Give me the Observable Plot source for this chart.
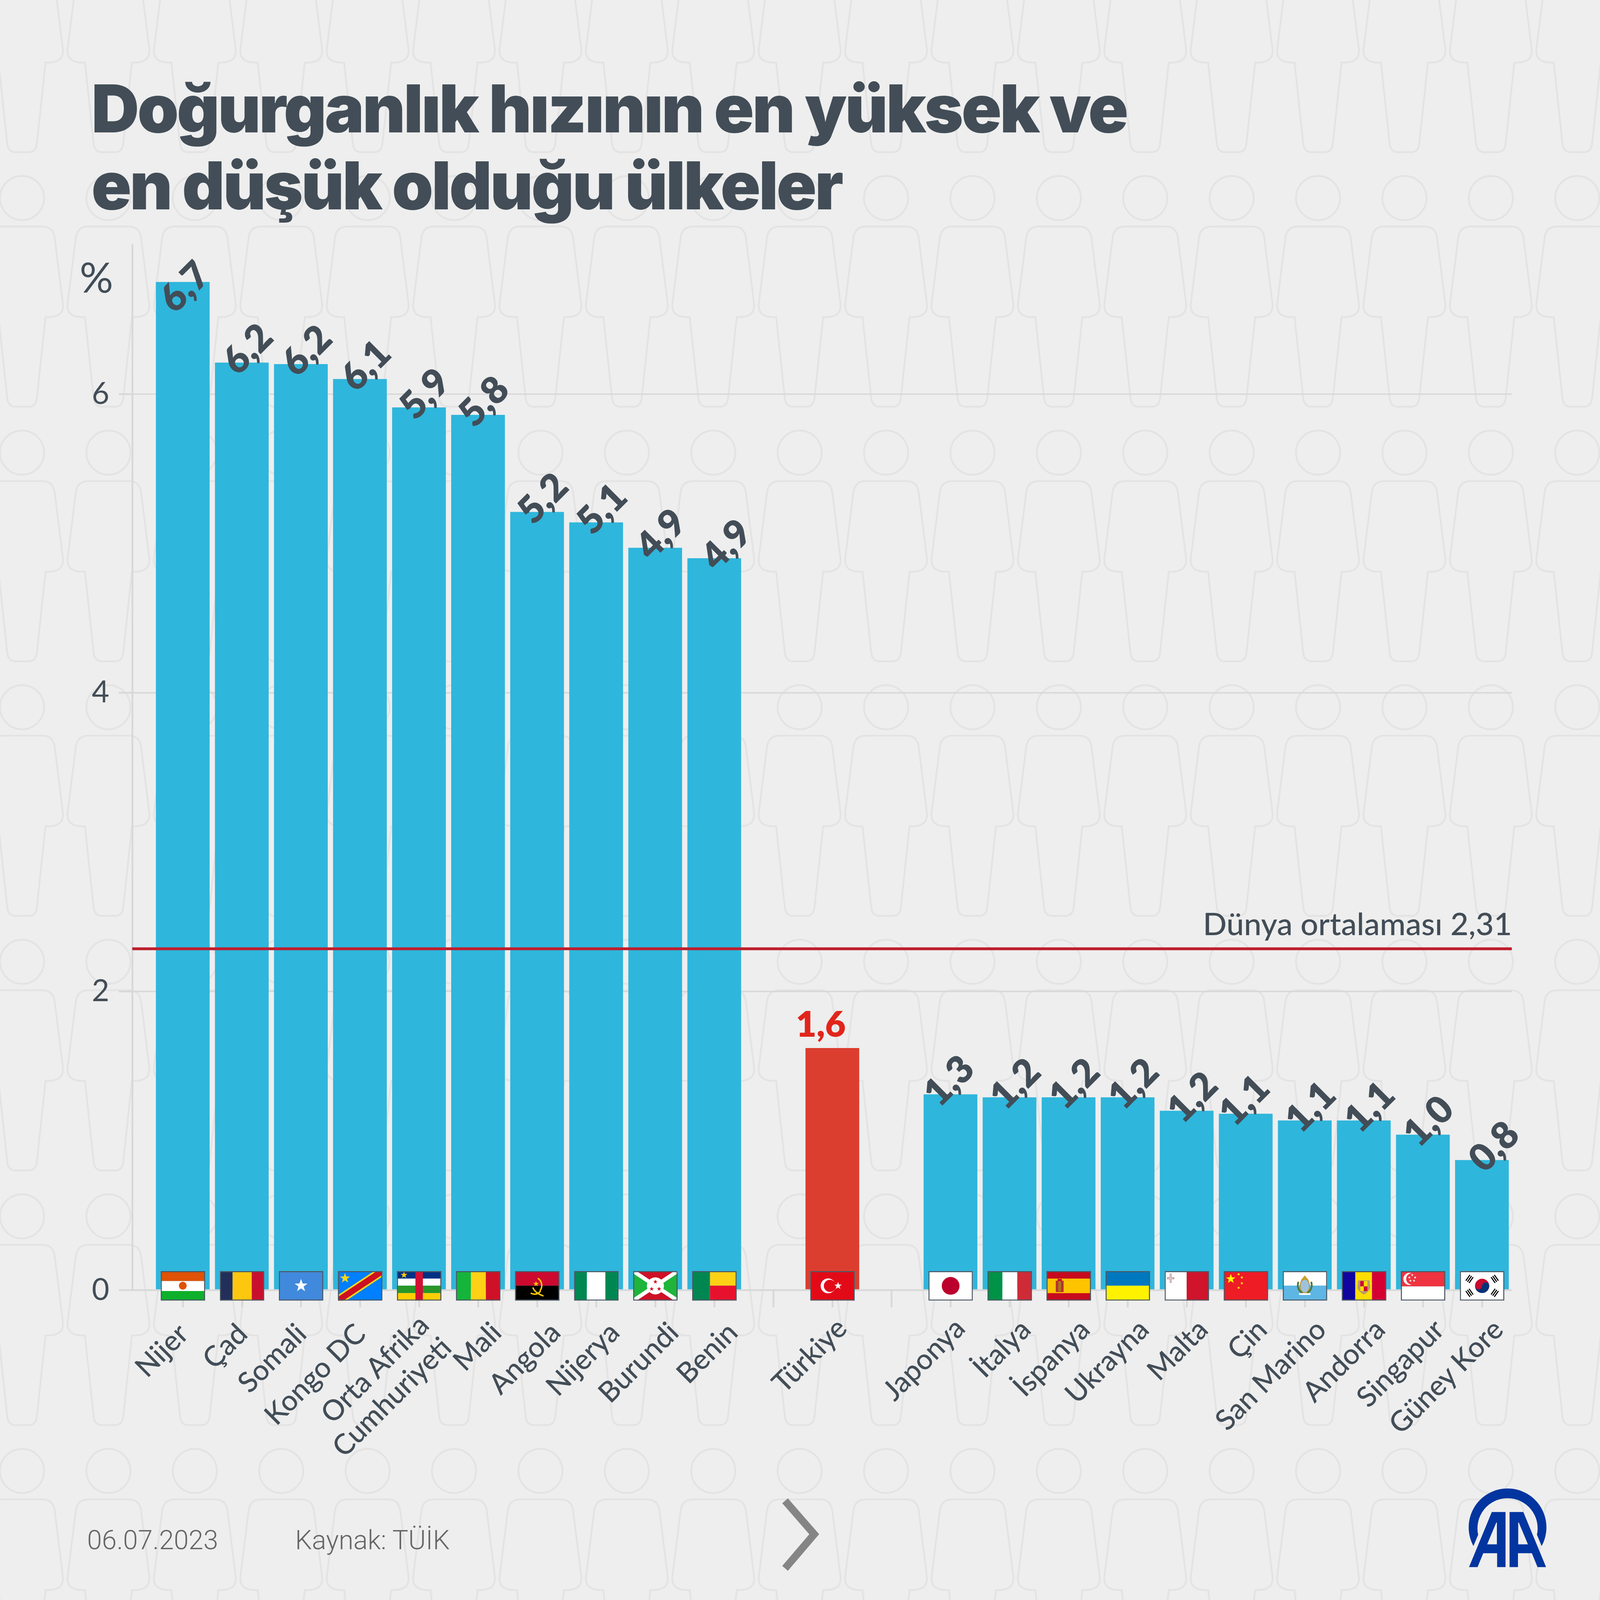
<!DOCTYPE html>
<html lang="tr">
<head>
<meta charset="utf-8">
<script src="https://cdn.jsdelivr.net/npm/d3@7"></script>
<script src="https://cdn.jsdelivr.net/npm/@observablehq/plot@0.6"></script>
<style>
  html,body{margin:0;padding:0;width:100%;height:100%;overflow:hidden;background:#eeeeee}
  #page{position:absolute;left:0;top:0;width:4500px;height:4500px;background-color:#eeeeee;transform-origin:0 0}
  #bg,#deco{position:absolute;left:0;top:0}
  #chart{position:absolute;left:0;top:0}
  #title{position:absolute;left:257px;top:196px;margin:0;font:900 186px/217px Inter,sans-serif;color:#424d57;white-space:nowrap;letter-spacing:-5.1px}
  .foot{position:absolute;top:4286px;font:300 75px/90px Roboto,sans-serif;color:#666}
</style>
</head>
<body>
<div id="page">
  <svg id="bg" width="4500" height="4500"></svg>
  <div id="chart"></div>
  <h1 id="title">Doğurganlık hızının en yüksek ve<br>en düşük olduğu ülkeler</h1>
  <div class="foot" style="left:245px">06.07.2023</div>
  <div class="foot" style="left:830px">Kaynak: TÜİK</div>
  <svg id="deco" width="4500" height="4500" style="pointer-events:none">
    <polyline points="2208,4221 2290,4315 2208,4411" fill="none" stroke="#858585" stroke-width="21"/>
    <g transform="translate(4050,4150) scale(0.3333)" fill="#0335a0">
      <path d="M282 594 A328 328 0 1 1 858 594 L818 500 A254 254 0 1 0 322 500 Z"/>
      <path fill-rule="evenodd" d="M437 308H553V772H482V655H365L317 772H245ZM475 397 398 580H480V397Z"/>
      <path fill-rule="evenodd" d="M703 308H587V772H658V655H775L823 772H895ZM665 397 742 580H660V397Z"/>
    </g>
  </svg>
</div>
<script>
// the window may be smaller than the 4500-unit design: fit the whole page into it
document.getElementById("page").style.transform=`scale(${Math.min(1,Math.min(innerWidth,innerHeight)/4500)})`;

// ---- chart data ----
const countries = ["Nijer","Çad","Somali","Kongo DC","Orta Afrika\nCumhuriyeti","Mali","Angola","Nijerya","Burundi","Benin","Türkiye","Japonya","İtalya","İspanya","Ukrayna","Malta","Çin","San Marino","Andorra","Singapur","Güney Kore"];
const barValues = [6.75,6.21,6.2,6.1,5.91,5.86,5.21,5.14,4.97,4.9,1.62,1.31,1.29,1.29,1.29,1.2,1.18,1.135,1.135,1.04,0.87];
const valueLabels = ["6,7","6,2","6,2","6,1","5,9","5,8","5,2","5,1","4,9","4,9","1,6","1,3","1,2","1,2","1,2","1,2","1,1","1,1","1,1","1,0","0,8"];
const slots = ["Nijer","Çad","Somali","Kongo DC","Orta Afrika\nCumhuriyeti","Mali","Angola","Nijerya","Burundi","Benin"," ","Türkiye","  ","Japonya","İtalya","İspanya","Ukrayna","Malta","Çin","San Marino","Andorra","Singapur","Güney Kore"];
const yTicks = [0,2,4,6];
const worldLine = 2.286;
const worldLabel = "Dünya ortalaması 2,31";
const INK = "#424d57", BLUE = "#2bb5db", RED = "#da3a2b";

// ---- flags ----
function star(cx,cy,r,fill){let p=[];for(let i=0;i<10;i++){const a=-Math.PI/2+i*Math.PI/5,q=i%2?r*0.4:r;p.push((cx+q*Math.cos(a)).toFixed(1)+","+(cy+q*Math.sin(a)).toFixed(1));}return `<polygon points="${p.join(" ")}" fill="${fill}"/>`;}
function r(x,y,w,h,f){return `<rect x="${x}" y="${y}" width="${w}" height="${h}" fill="${f}"/>`;}
function flag(inner){
  const s=`<svg xmlns="http://www.w3.org/2000/svg" width="125" height="83" viewBox="0 0 125 83">${inner}<rect x="1.5" y="1.5" width="122" height="80" fill="none" stroke="#4c5966" stroke-width="3"/></svg>`;
  return "data:image/svg+xml;charset=utf-8,"+encodeURIComponent(s);
}
const h3=(a,b,c)=>r(0,0,125,28,a)+r(0,28,125,28,b)+r(0,56,125,27,c);
const v3=(a,b,c,x1=42,x2=84)=>r(0,0,x1,83,a)+r(x1,0,x2-x1,83,b)+r(x2,0,125-x2,83,c);
const trig=(x,y,a)=>`<g transform="translate(${x},${y}) rotate(${a})" fill="#000"><rect x="-10" y="-7" width="20" height="3"/><rect x="-10" y="-1.5" width="20" height="3"/><rect x="-10" y="4" width="20" height="3"/></g>`;
const flags = [
  h3("#e05206","#fff","#0db02b")+'<ellipse cx="62" cy="41" rx="11" ry="11" fill="#e05206"/>',
  v3("#222f5b","#fec70f","#c8102e",36,90),
  r(0,0,125,83,"#4189dd")+star(62.5,41,19,"#fff"),
  r(0,0,125,83,"#007fff")+'<path d="M0 83 125 0" stroke="#f7d618" stroke-width="26"/><path d="M0 83 125 0" stroke="#ce1021" stroke-width="17"/>'+star(20,20,15,"#f7d618"),
  r(0,0,125,21,"#003082")+r(0,21,125,20,"#fff")+r(0,41,125,21,"#289728")+r(0,62,125,21,"#ffce00")+r(52,0,21,83,"#d21034")+star(20,11,10,"#ffce00"),
  v3("#14b53a","#fcd116","#ce1126"),
  r(0,0,125,41,"#cc092f")+r(0,41,125,42,"#000")+star(59,36,8,"#ffcb00")+'<path d="M64 20 A24 24 0 0 1 70 55 M50 46 Q56 62 80 70 M44 62 Q60 70 72 56" fill="none" stroke="#ffcb00" stroke-width="4"/>',
  v3("#008751","#fff","#008751",36,88),
  r(0,0,125,83,"#ce1126")+'<path d="M0 0 62.5 41.5 0 83ZM125 0 62.5 41.5 125 83Z" fill="#1eb53a"/><path d="M0 0 125 83M125 0 0 83" stroke="#fff" stroke-width="11"/><circle cx="62.5" cy="41.5" r="24" fill="#fff"/>'+star(62.5,30,6.5,"#ce1126")+star(52,50,6.5,"#ce1126")+star(73,50,6.5,"#ce1126"),
  r(0,0,50,83,"#008751")+r(50,0,75,41,"#fcd116")+r(50,41,75,42,"#e8112d"),
  r(0,0,125,83,"#e30a17")+'<circle cx="50" cy="41.5" r="21" fill="#fff"/><circle cx="55" cy="41.5" r="17" fill="#e30a17"/>'+star(78,41.5,11,"#fff"),
  r(0,0,125,83,"#fff")+'<circle cx="62.5" cy="41.5" r="25" fill="#bc002d"/>',
  v3("#009246","#fff","#ce2b37"),
  r(0,0,125,83,"#c60b1e")+r(0,21,125,41,"#ffc400")+r(26,27,22,32,"#b7312c")+r(33,27,8,30,"#a5791b")+r(31,22,12,6,"#c8102e"),
  r(0,0,125,41,"#0078bf")+r(0,41,125,42,"#fff200"),
  r(0,0,62,83,"#fff")+r(62,0,63,83,"#cf142b")+'<path d="M17 7V33M7 20H27" stroke="#c05060" stroke-width="5" fill="none"/><path d="M17 8V32M8 20H26" stroke="#ddd" stroke-width="3" fill="none"/>',
  r(0,0,125,83,"#ee1c25")+star(20,22,14,"#ff0")+star(42,9,4.5,"#ff0")+star(51,18,4.5,"#ff0")+star(51,34,4.5,"#ff0")+star(42,47,4.5,"#ff0"),
  r(0,0,125,41,"#fff")+r(0,41,125,42,"#5eb6e4")+'<path d="M62 12 72 24 77 40 72 62H52L47 40 52 24Z" fill="#c9a227"/><ellipse cx="62" cy="42" rx="13" ry="19" fill="#9cc3dd" stroke="#c9912a" stroke-width="2"/><path d="M44 30Q38 50 55 62M80 30Q86 50 69 62" fill="none" stroke="#4f7a3a" stroke-width="5"/>'+r(46,62,32,5,"#fff"),
  v3("#10069f","#fedd00","#d50032",38,85)+'<path d="M46 26H78L80 48Q74 60 62 66 50 60 44 48Z" fill="#b79c6e"/>'+r(52,28,10,15,"#d50032")+r(62,28,10,15,"#fedd00")+r(52,43,10,13,"#fedd00")+r(62,43,10,13,"#d50032"),
  r(0,0,125,43,"#ef3340")+r(0,43,125,40,"#fff")+'<circle cx="24" cy="22" r="17" fill="#fff"/><circle cx="31" cy="22" r="16" fill="#ef3340"/>'+star(32,11,4,"#fff")+star(24,18,4,"#fff")+star(40,18,4,"#fff")+star(27,27,4,"#fff")+star(37,27,4,"#fff"),
  r(0,0,125,83,"#fff")+'<circle cx="62.5" cy="41.5" r="20" fill="#c60c30"/><path d="M42.5 41.5A20 20 0 0 0 82.5 41.5 10 10 0 0 0 62.5 41.5 10 10 0 0 1 42.5 41.5Z" fill="#003478"/>'+trig(27,22,-55)+trig(98,22,55)+trig(27,61,55)+trig(98,61,-55)
].map(flag);

const rows = countries.map((country,i)=>({country,value:barValues[i],label:valueLabels[i],flag:flags[i],color:country==="Türkiye"?RED:BLUE,i}));

// ---- background tile (decor) ----
const bg=d3.select("#bg");
const defs=bg.append("defs").append("pattern").attr("id","ppl").attr("patternUnits","userSpaceOnUse").attr("width",243).attr("height",716).attr("x",-59.5).attr("y",477);
const g=defs.append("g").attr("transform","translate(121.5,80)").attr("fill","none").attr("stroke","#e3e3e3").attr("stroke-width",5);
g.append("circle").attr("r",62);
g.append("path").attr("d","M-57 80H57Q88 80 92 113L115 298Q118 335 73 335H66L42 560Q40 587 18 587H-18Q-40 587 -42 560L-66 335H-73Q-118 335 -115 298L-92 113Q-88 80 -57 80Z");
bg.append("rect").attr("width",4500).attr("height",4500).attr("fill","url(#ppl)");

// ---- label placement groups (row ranges, offsets) ----
const nameGroups=[[0,3,0,108],[4,4,44,115],[5,9,50,104],[10,11,25,92],[12,20,44,96]];
const valueGroups=[
  {test:d=>d.i===0,dx:6,dy:15},
  {test:d=>[11,16].includes(d.i),dx:-3,dy:-37},
  {test:d=>[9,20].includes(d.i),dx:35,dy:-37},
  {test:d=>![0,9,10,11,16,20].includes(d.i),dx:17,dy:-37}
];

const chart = Plot.plot({
  width:4500,height:4500,
  marginLeft:372,marginRight:248,marginTop:688,marginBottom:872,
  style:{background:"transparent",fontFamily:"Lato, sans-serif",color:INK,overflow:"visible",maxWidth:"none"},
  x:{domain:slots,range:[431,4251],paddingInner:0.09,paddingOuter:0.045,round:false,label:null,axis:null},
  y:{domain:[0,7],label:null,axis:null},
  color:{type:"identity"},
  marks:[
    Plot.ruleY([2,4,6],{stroke:"#d8d8d8",strokeWidth:4}),
    Plot.barY(rows,{x:"country",y:"value",fill:"color",fillOpacity:0.98}),
    Plot.ruleY([0],{stroke:"#d8d8d8",strokeWidth:5}),
    Plot.frame({anchor:"left",stroke:"#d8d8d8",strokeWidth:5}),
    Plot.axisX({anchor:"bottom",tickSize:49,tickFormat:()=>"",stroke:"#d8d8d8",strokeWidth:5,label:null}),
    Plot.axisY({anchor:"left",ticks:yTicks,tickSize:38,tickPadding:27,fontSize:85,stroke:"#d8d8d8",strokeWidth:5,fill:INK,label:null,tickFormat:d=>String(d)}),
    Plot.text(["%"],{frameAnchor:"left",y:6.77,textAnchor:"end",dx:-54,fontSize:118,fill:INK}),
    Plot.ruleY([worldLine],{stroke:"#be1e2d",strokeWidth:8}),
    Plot.text([worldLabel],{frameAnchor:"right",y:worldLine,textAnchor:"end",lineAnchor:"bottom",dy:-38,fontSize:88,fontWeight:500,fill:INK}),
    Plot.image(rows,{x:"country",y:()=>0,src:"flag",width:125,height:83,dy:-12}),
    ...valueGroups.map(({test,dx,dy})=>Plot.text(rows.filter(test),{x:"country",y:"value",text:"label",rotate:-45,dx,dy,fontSize:106,fontWeight:800,fill:INK})),
    Plot.text(rows.filter(d=>d.country==="Türkiye"),{x:"country",y:"value",text:"label",dx:-33,dy:-64,fontSize:100,fontWeight:800,fill:"#e1251b"}),
    ...nameGroups.map(([a,b,dx,dy])=>Plot.text(rows.filter(d=>d.i>=a&&d.i<=b),{x:"country",frameAnchor:"bottom",text:"country",rotate:-45,textAnchor:"end",lineAnchor:"middle",dx,dy,fontSize:80,fontWeight:500,fill:INK,lineHeight:1.12}))
  ]
});
document.getElementById("chart").append(chart);
</script>
</body>
</html>
